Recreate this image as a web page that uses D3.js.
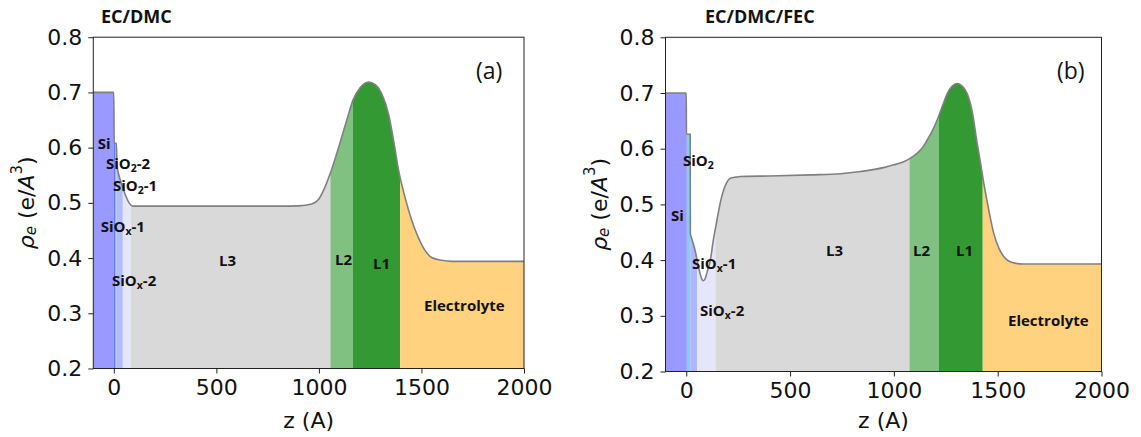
<!DOCTYPE html>
<html><head><meta charset="utf-8">
<script src="https://cdn.jsdelivr.net/npm/d3@7"></script>
<style>body{margin:0;background:#fff}</style>
</head><body><svg id="c" width="1141" height="437"></svg>
<script>
// ---------------- data ----------------
const xTicks = [0, 500, 1000, 1500, 2000];
const yTicks = [0.2, 0.3, 0.4, 0.5, 0.6, 0.7, 0.8];
const titles = ["EC/DMC", "EC/DMC/FEC"];
const panelTags = ["(a)", "(b)"];

// panel (a) electron density profile
const zA   = [-100, 0, 1.5, 13, 15, 25, 35, 44, 60, 76, 92, 200, 500, 800, 900, 965, 1000, 1023, 1056, 1085, 1112, 1140, 1166, 1200, 1242, 1275, 1306, 1340, 1370, 1388, 1420, 1452, 1485, 1517, 1550, 1598, 1650, 2000];
const rhoA = [0.7, 0.7, 0.608, 0.608, 0.570, 0.550, 0.537, 0.527, 0.511, 0.499, 0.494, 0.494, 0.494, 0.494, 0.4945, 0.498, 0.507, 0.523, 0.554, 0.587, 0.620, 0.655, 0.686, 0.708, 0.719, 0.714, 0.698, 0.660, 0.600, 0.560, 0.510, 0.469, 0.437, 0.414, 0.401, 0.396, 0.394, 0.394];
const layersA = ["Si", "SiO2-2", "SiO2-1", "SiOx-1", "SiOx-2", "L3", "L2", "L1", "Electrolyte"];
const edgesA  = [-100, 2, 6, 12, 44, 82, 1056, 1166, 1396, 2000];

// panel (b) electron density profile
const zB   = [-100, 0, 0.8, 19, 19.8, 25, 35, 44, 55, 65, 75, 81, 90, 100, 116, 130, 148, 165, 180, 196, 212, 240, 261, 400, 600, 743, 839, 950, 1000, 1050, 1080, 1113, 1140, 1161, 1185, 1209, 1235, 1257, 1280, 1305, 1330, 1353, 1378, 1401, 1417, 1433, 1457, 1481, 1505, 1530, 1555, 1578, 1620, 2000];
const rhoB = [0.7, 0.7, 0.626, 0.626, 0.447, 0.440, 0.428, 0.415, 0.395, 0.378, 0.366, 0.363, 0.366, 0.378, 0.400, 0.435, 0.472, 0.505, 0.526, 0.540, 0.547, 0.549, 0.550, 0.551, 0.553, 0.555, 0.559, 0.566, 0.571, 0.577, 0.583, 0.592, 0.603, 0.616, 0.632, 0.652, 0.678, 0.699, 0.712, 0.717, 0.712, 0.699, 0.665, 0.610, 0.575, 0.538, 0.490, 0.448, 0.422, 0.406, 0.398, 0.395, 0.393, 0.393];
const layersB = ["Si", "SiO2", "SiOx-1", "SiOx-2", "L3", "L2", "L1", "Electrolyte"];
const edgesB  = [-100, 3, 19, 52, 140, 1075, 1217, 1428, 2000];

// ---------------- styling / layout ----------------
const colorA = {"Si":"#9999ff","SiO2-2":"#3a5cff","SiO2-1":"#8fb8ff","SiOx-1":"#b3bbff","SiOx-2":"#e6e6fa",
                "L3":"#d9d9d9","L2":"#80c080","L1":"#339933","Electrolyte":"#ffd280"};
const colorB = {"Si":"#9999ff","SiO2":"#87ceeb","SiOx-1":"#b3b3ff","SiOx-2":"#e6e6fa",
                "L3":"#d9d9d9","L2":"#80c080","L1":"#339933","Electrolyte":"#ffd280"};

const svg = d3.select("#c");
const panels = [
  {x0:93.3, x1:524, yTop:37.2, yBot:368.5, z:zA, rho:rhoA, layers:layersA, edges:edgesA, colors:colorA,
   labels:[["Si",97.7,143],["SiO|2|-2",106,163],["SiO|2|-1",113,185],["SiO|x|-1",100.7,226],["SiO|x|-2",112,280],
           ["L3",219,260],["L2",335,259],["L1",373,263],["Electrolyte",424,305]],
   tagX:476, titleX:101},
  {x0:665.5, x1:1101.5, yTop:37.3, yBot:371.5, z:zB, rho:rhoB, layers:layersB, edges:edgesB, colors:colorB,
   labels:[["SiO|2|",683,160],["Si",671,215],["SiO|x|-1",692,263],["SiO|x|-2",700,310],
           ["L3",826,250],["L2",913,250],["L1",956,250],["Electrolyte",1008,320]],
   tagX:1057, titleX:705}
];

const defs = svg.append("defs");

panels.forEach((p, pi) => {
  const x = d3.scaleLinear().domain([-100, 2000]).range([p.x0, p.x1]);
  const y = d3.scaleLinear().domain([0.2, 0.8]).range([p.yBot, p.yTop]);
  const pts = p.z.map((z, i) => [z, p.rho[i]]);
  const area = d3.area().curve(d3.curveMonotoneX).x(d => x(d[0])).y0(y(0.2)).y1(d => y(d[1]));
  const line = d3.line().curve(d3.curveMonotoneX).x(d => x(d[0])).y(d => y(d[1]));

  const g = svg.append("g");
  p.layers.forEach((name, i) => {
    const id = `clip${pi}_${i}`;
    defs.append("clipPath").attr("id", id).append("rect")
      .attr("x", x(p.edges[i])).attr("y", p.yTop)
      .attr("width", x(p.edges[i+1]) - x(p.edges[i])).attr("height", p.yBot - p.yTop);
    g.append("path").datum(pts).attr("d", area)
      .attr("fill", p.colors[name]).attr("clip-path", `url(#${id})`);
  });
  g.append("path").datum(pts).attr("d", line)
    .attr("fill", "none").attr("stroke", "#808080").attr("stroke-width", 1.6);

  // frame
  svg.append("rect").attr("x", p.x0).attr("y", p.yTop)
    .attr("width", p.x1 - p.x0).attr("height", p.yBot - p.yTop)
    .attr("fill", "none").attr("stroke", "#222").attr("stroke-width", 1);

  // axes
  const ax = svg.append("g").attr("transform", `translate(0,${p.yBot})`)
    .call(d3.axisBottom(x).tickValues(xTicks).tickSize(5).tickPadding(6).tickFormat(d3.format("d")));
  const ay = svg.append("g").attr("transform", `translate(${p.x0},0)`)
    .call(d3.axisLeft(y).tickValues(yTicks).tickSize(5).tickPadding(6).tickFormat(d3.format(".1f")));
  [ax, ay].forEach(a => {
    a.select(".domain").remove();
    a.selectAll("line").attr("stroke", "#222");
    a.selectAll("text").attr("font-family", "DejaVu Sans").attr("font-size", 22).attr("fill", "#111");
  });

  // axis titles
  const cx = (p.x0 + p.x1) / 2;
  svg.append("text").attr("x", cx).attr("y", 428).attr("text-anchor", "middle")
    .attr("font-family", "DejaVu Sans").attr("font-size", 22).attr("fill", "#111").text("z (A)");
  const yl = svg.append("text")
    .attr("transform", `translate(${p.x0 - 67},${(p.yTop + p.yBot) / 2}) rotate(-90)`)
    .attr("text-anchor", "middle").attr("dominant-baseline", "central")
    .attr("font-family", "DejaVu Sans").attr("font-size", 22).attr("fill", "#111");
  yl.append("tspan").attr("font-style", "italic").text("ρ");
  yl.append("tspan").attr("font-style", "italic").attr("font-size", 15).attr("dy", 5).text("e");
  yl.append("tspan").attr("dy", -5).text(" (e/");
  yl.append("tspan").attr("font-style", "italic").text("A");
  yl.append("tspan").attr("font-size", 15).attr("dy", -9).text("3");
  yl.append("tspan").attr("dy", 9).text(")");

  // title + tag
  svg.append("text").attr("x", p.titleX).attr("y", 23).attr("font-family", "Open Sans")
    .attr("font-weight", "bold").attr("font-size", 18).attr("fill", "#111").text(titles[pi]);
  svg.append("text").attr("x", p.tagX).attr("y", 79).attr("font-family", "Open Sans")
    .attr("font-size", 23).attr("fill", "#111").text(panelTags[pi]);

  // region labels
  p.labels.forEach(([s, lx, ly]) => {
    const t = svg.append("text").attr("x", lx).attr("y", ly + 5.5)
      .attr("font-family", "Open Sans").attr("font-weight", "bold").attr("font-size", 15).attr("fill", "#111");
    const parts = s.split("|");
    if (parts.length === 1) { t.text(s); }
    else {
      t.append("tspan").text(parts[0]);
      t.append("tspan").attr("font-size", 10.5).attr("dy", 3).text(parts[1]);
      t.append("tspan").attr("dy", -3).text(parts[2]);
    }
  });
});
</script></body></html>
